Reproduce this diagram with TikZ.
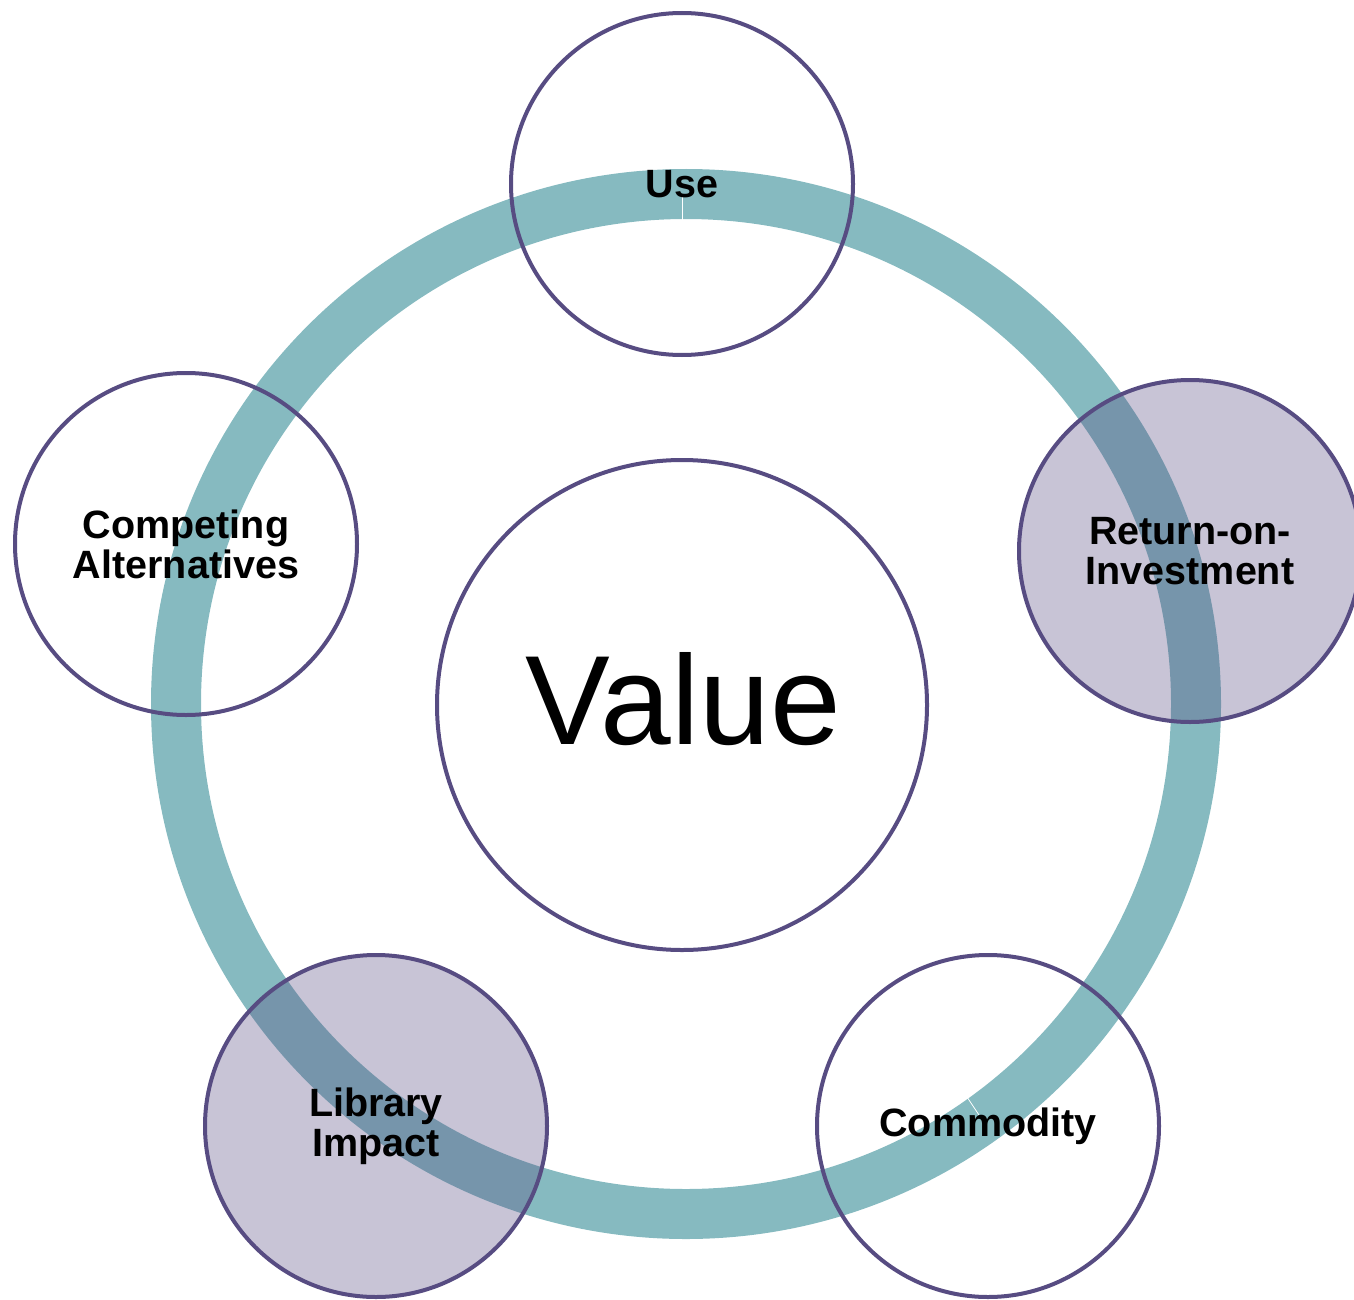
\documentclass[tikz,border=0pt]{standalone}
\usepackage{fontspec}
\setmainfont{Liberation Sans}
\definecolor{ringc}{HTML}{86BAC0}
\definecolor{edgec}{HTML}{574C82}
\tikzset{
  sat/.style={circle, draw=edgec, line width=4pt, minimum size=342pt, inner sep=0pt,
    align=center, font=\fontsize{39.5}{40}\selectfont\bfseries},
  satfill/.style={sat, fill=edgec, fill opacity=0.33, text opacity=1},
  hub/.style={circle, draw=edgec, line width=4pt, fill=white, minimum size=490pt, inner sep=0pt},
  hubtext/.style={inner sep=0pt, font=\fontsize{127}{130}\selectfont}
}
\begin{document}
\begin{tikzpicture}[x=1pt,y=-1pt]
\useasboundingbox (0,0) rectangle (1354,1300);
% ring
\coordinate (rc) at (686,704);
\draw[ringc, line width=50pt] (rc) circle[radius=510pt];
% seams
\draw[white, line width=0.8pt] (682,197) -- (682,221);
\draw[white, line width=0.8pt] (967,1097) -- (981,1118);
% hub
\node[hub] (value) at (682,705) {};
\node[hubtext] (valuetext) at (683,699) {Value};
% satellites
\node[sat] (use) at (682,184) {Use};
\node[satfill] (roi) at (1190,551) {Return-on-\\Investment};
\node[sat] (comm) at (988,1126) {Commodity};
\node[satfill] (lib) at (376,1126) {Library\\Impact};
\node[sat] (comp) at (186,544) {Competing\\Alternatives};
\end{tikzpicture}
\end{document}
